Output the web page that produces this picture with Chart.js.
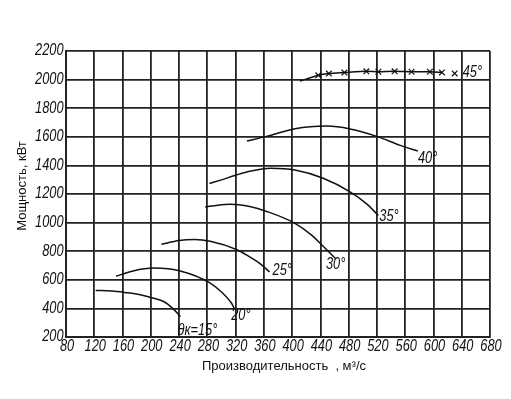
<!DOCTYPE html>
<html><head><meta charset="utf-8">
<script src="https://cdn.jsdelivr.net/npm/chart.js@4/dist/chart.umd.min.js"></script>
<style>html,body{margin:0;padding:0;background:#fff}</style>
</head><body>
<canvas id="c" width="511" height="399"></canvas>
<script>
// ---- data ----
const xTicks = [80,120,160,200,240,280,320,360,400,440,480,520,560,600,640,680];
const yTicks = [200,400,600,800,1000,1200,1400,1600,1800,2000,2200];
const curveLabels = ['θк=15°','20°','25°','30°','35°','40°','45°'];
const xTitle = 'Производительность  , м³/с';
const yTitle = 'Мощность, кВт';

const q15 = [122,145,163,185,204,220,231,242];
const p15 = [526,522,512,496,471,443,400,343];
const q20 = [151,175,204,243,283,300,314,318];
const p20 = [625,662,682,660,580,515,438,402];
const q25 = [215,240,262,284,322,340,355,368];
const p25 = [848,875,881,869,810,760,712,655];
const q30 = [277,295,312,340,364,404,428,444,462];
const p30 = [1109,1122,1128,1112,1078,995,911,834,745];
const q35 = [283,300,320,340,370,404,444,482,505,522];
const p35 = [1273,1299,1331,1359,1380,1368,1310,1215,1133,1050];
const q40 = [336,364,404,449,482,520,553,578];
const p40 = [1570,1603,1657,1675,1655,1603,1540,1500];
const q45 = [411,437,452,474,505,522,545,569,595,612];
const p45 = [1990,2030,2042,2049,2058,2055,2058,2055,2055,2050];
const q45tail = [630];
const p45tail = [2043];

const pts = (xs, ys) => xs.map((x, i) => ({x, y: ys[i]}));

const FONT = "'Liberation Sans', Arial, sans-serif";
const SQUEEZE = 0.8;
const ink = '#111';

function curve(xs, ys, extra) {
  return Object.assign({
    data: pts(xs, ys), showLine: true, borderColor: ink, borderWidth: 1.5,
    pointRadius: 0, tension: 0.4, cubicInterpolationMode: 'monotone', fill: false
  }, extra || {});
}

const datasets = [
  curve(q15, p15), curve(q20, p20), curve(q25, p25), curve(q30, p30),
  curve(q35, p35), curve(q40, p40),
  curve(q45, p45, {pointStyle: 'crossRot', pointRadius: q45.map((v, i) => i === 0 ? 0 : 4),
    pointBorderColor: ink, pointBorderWidth: 1.2, cubicInterpolationMode: 'default', tension: 0.2}),
  curve(q45tail, p45tail, {showLine: false, pointStyle: 'crossRot', pointRadius: 4,
    pointBorderColor: ink, pointBorderWidth: 1.2})
];

// label offsets (px) relative to the last point of each curve
const labelOffsets = [[-3,13.5],[-3,7],[3,-1],[-10,5],[1,1],[0,7],[8,-1]];
const labelSets = [0,1,2,3,4,5,7];

function squeezed(ctx, text, x, y, align) {
  ctx.save();
  ctx.translate(x, y);
  ctx.scale(SQUEEZE, 1);
  ctx.textAlign = align;
  ctx.fillText(text, 0, 0);
  ctx.restore();
}

const textPlugin = {
  id: 'texts',
  afterDraw(chart) {
    const ctx = chart.ctx, xs = chart.scales.x, ys = chart.scales.y, area = chart.chartArea;
    ctx.save();
    ctx.fillStyle = ink;
    ctx.textBaseline = 'middle';
    ctx.font = 'italic 16px ' + FONT;
    // tick labels
    xTicks.forEach(v => squeezed(ctx, String(v), xs.getPixelForValue(v) + 1, area.bottom + 9.5, 'center'));
    yTicks.forEach(v => squeezed(ctx, String(v), area.left - 2.5, ys.getPixelForValue(v), 'right'));
    // curve labels
    labelSets.forEach((di, k) => {
      const d = chart.data.datasets[di].data;
      const p = d[d.length - 1];
      squeezed(ctx, curveLabels[k], xs.getPixelForValue(p.x) + labelOffsets[k][0],
               ys.getPixelForValue(p.y) + labelOffsets[k][1], 'left');
    });
    // axis titles
    ctx.font = '13px ' + FONT;
    ctx.textAlign = 'center';
    ctx.fillText(xTitle, 284, 366);
    ctx.translate(22, 186);
    ctx.rotate(-Math.PI / 2);
    ctx.fillText(yTitle, 0, 0);
    ctx.restore();
  }
};

new Chart(document.getElementById('c'), {
  type: 'scatter',
  data: {datasets},
  plugins: [textPlugin],
  options: {
    responsive: false, animation: false, devicePixelRatio: 1,
    layout: {padding: {top: 51, right: 21, left: 0, bottom: 0}},
    plugins: {legend: {display: false}, tooltip: {enabled: false}},
    scales: {
      x: {
        type: 'linear', min: 80, max: 680,
        afterBuildTicks: s => { s.ticks = xTicks.map(v => ({value: v})); },
        afterFit: s => { s.height = 62; },
        grid: {color: '#222', lineWidth: 1.8, drawTicks: false},
        border: {color: '#222', width: 2},
        ticks: {display: false}
      },
      y: {
        type: 'linear', min: 200, max: 2200,
        afterBuildTicks: s => { s.ticks = yTicks.map(v => ({value: v})); },
        afterFit: s => { s.width = 66; },
        grid: {color: '#222', lineWidth: 1.8, drawTicks: false},
        border: {color: '#222', width: 2},
        ticks: {display: false}
      }
    }
  }
});
</script>
</body></html>
